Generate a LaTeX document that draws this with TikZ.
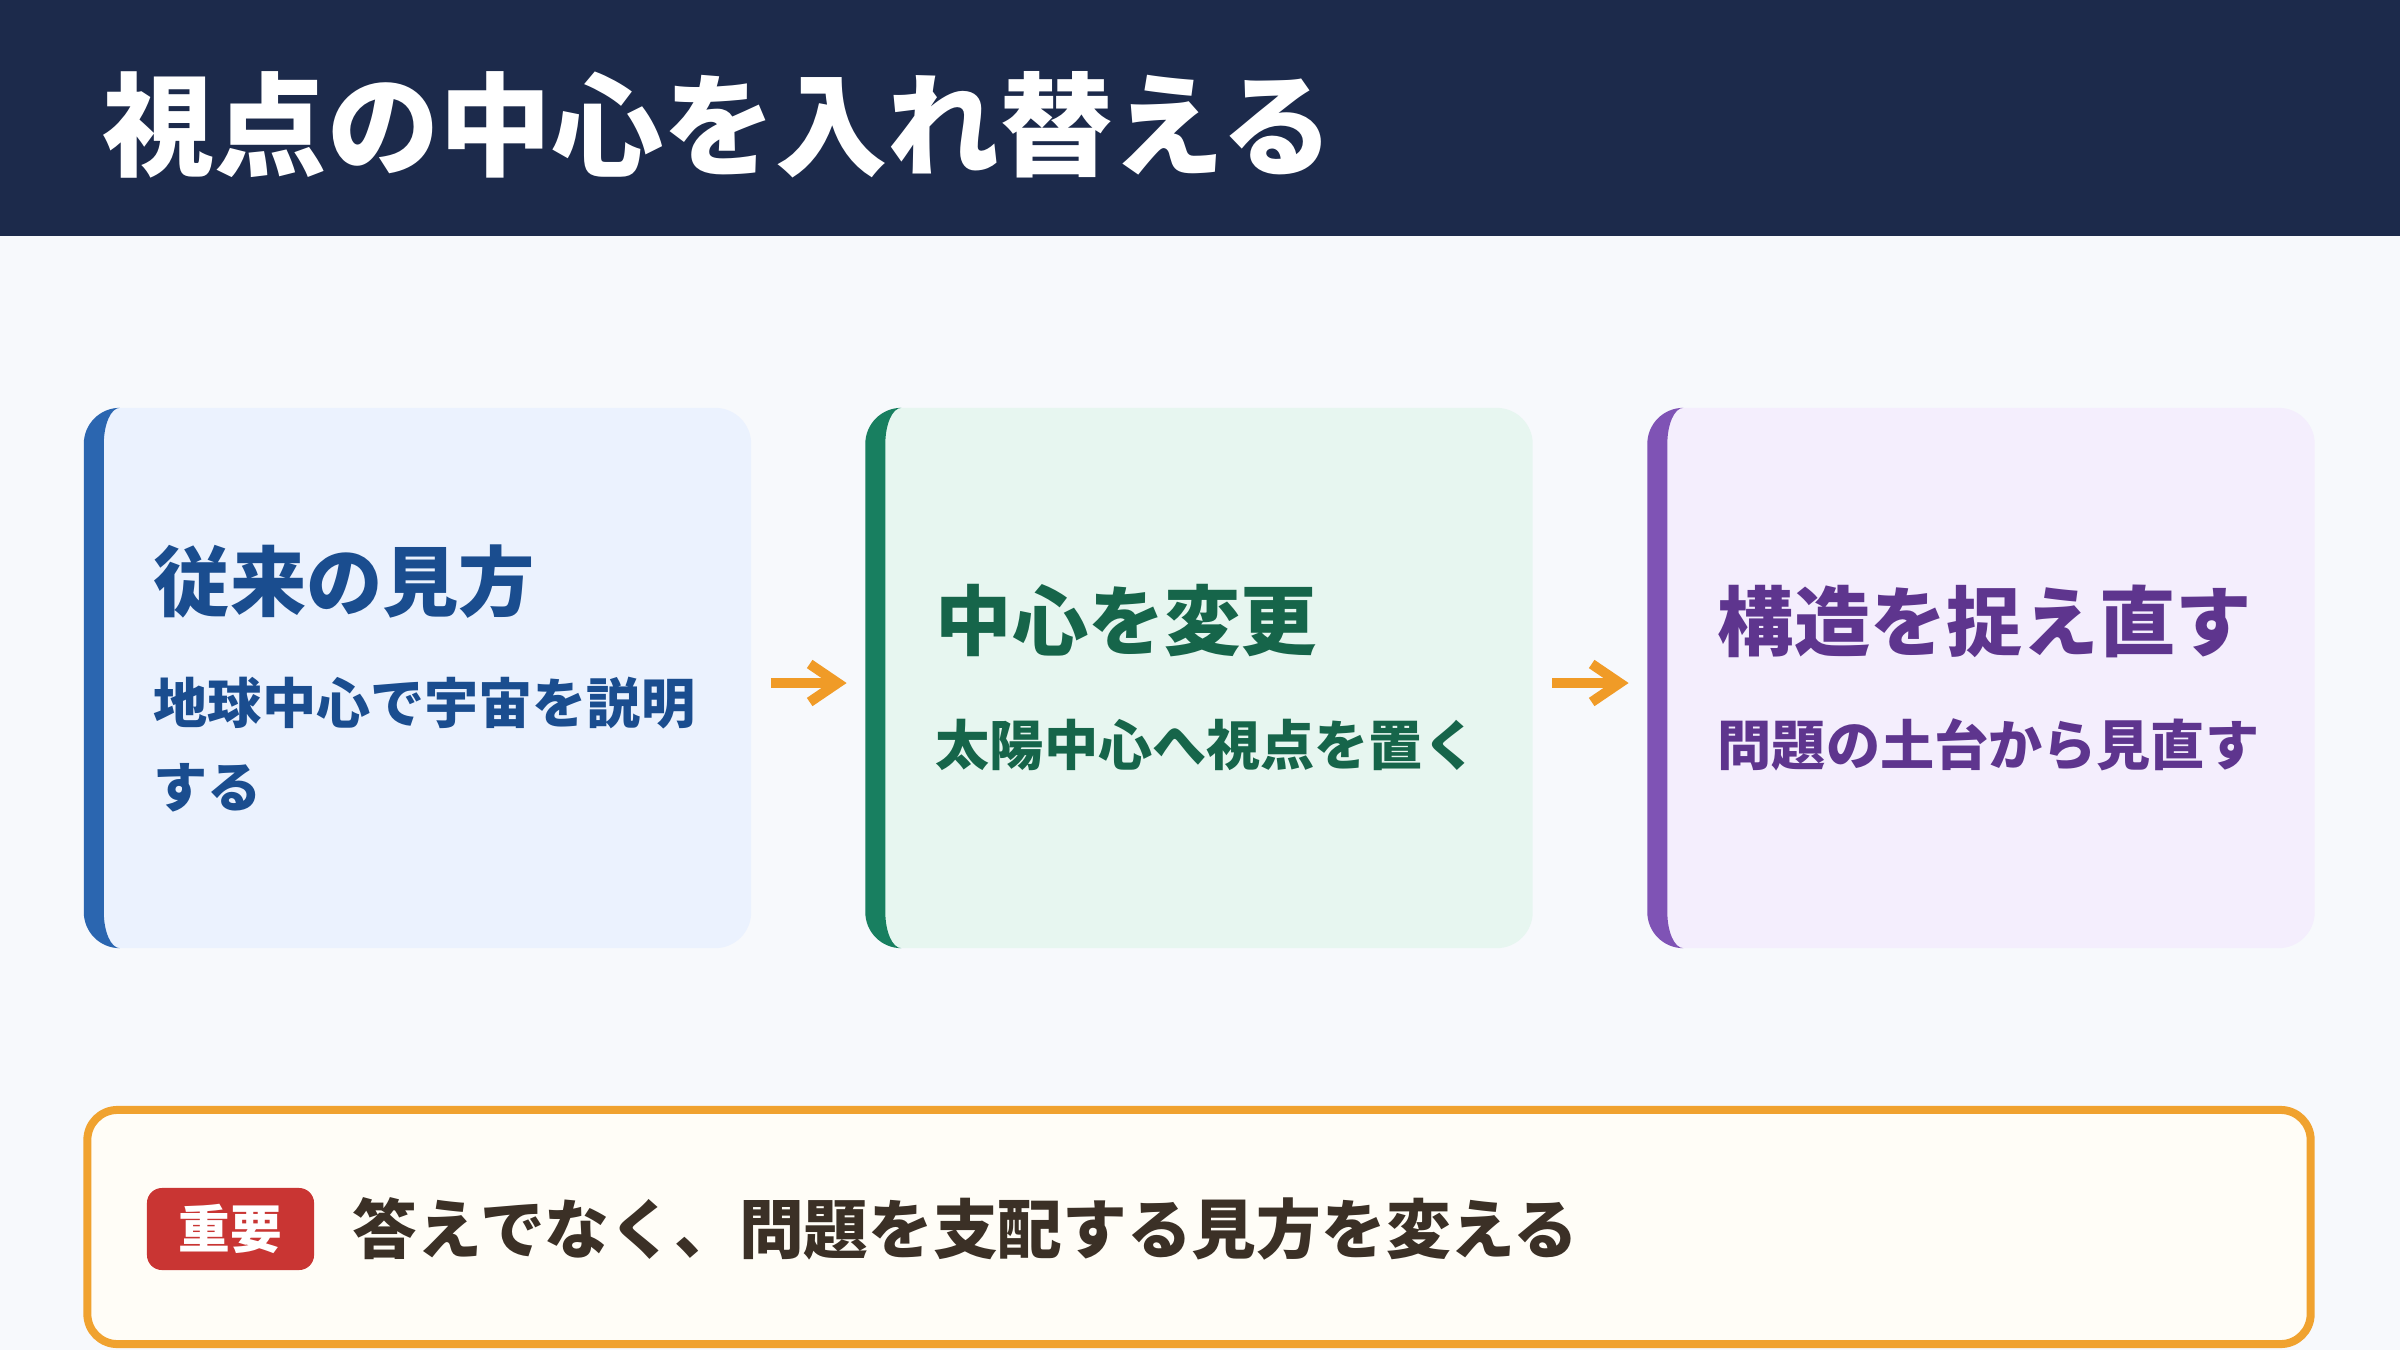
\documentclass[tikz,border=0pt]{standalone}
\usepackage{fontspec}
\usepackage{xcolor}
\usepackage{tikz}
\usetikzlibrary{positioning,calc,arrows.meta}
\setmainfont{Noto Sans CJK JP}

\definecolor{headbg}{HTML}{1C2A4B}
\definecolor{pagebg}{HTML}{F7F9FC}
\definecolor{bluebar}{HTML}{2B66B0}
\definecolor{bluefill}{HTML}{EBF2FE}
\definecolor{bluetext}{HTML}{1A4D8F}
\definecolor{greenbar}{HTML}{187F60}
\definecolor{greenfill}{HTML}{E7F6F0}
\definecolor{greentext}{HTML}{16654A}
\definecolor{purplebar}{HTML}{7F53B5}
\definecolor{purplefill}{HTML}{F4EEFD}
\definecolor{purpletext}{HTML}{5E358E}
\definecolor{arrowc}{HTML}{F09B27}
\definecolor{notefill}{HTML}{FFFDF7}
\definecolor{noteline}{HTML}{F0A22F}
\definecolor{tagred}{HTML}{C93533}
\definecolor{notetext}{HTML}{3B3026}

\tikzset{
  card/.style 2 args={rectangle, rounded corners=0.36cm, fill=#2, inner sep=0pt,
    minimum width=6.67cm, minimum height=5.4cm,
    path picture={
      \fill[#1, sharp corners] (path picture bounding box.south west)
        -- (path picture bounding box.north west)
        -- ([xshift=0.36cm]path picture bounding box.north west)
        arc[start angle=90, end angle=180, x radius=0.16cm, y radius=0.36cm]
        -- ([shift={(0.2cm,0.36cm)}]path picture bounding box.south west)
        arc[start angle=180, end angle=270, x radius=0.16cm, y radius=0.36cm]
        -- cycle;
    }},
  cardtitle/.style={anchor=west, inner sep=0pt, font=\bfseries\fontsize{21.7}{26}\selectfont},
  cardsub/.style={anchor=west, inner sep=0pt, align=left, font=\bfseries\fontsize{15.4}{23.9}\selectfont},
  flow/.style={draw=arrowc, line width=0.1cm, -{Straight Barb[length=0.28cm, width=0.38cm]},
    shorten <=0.19cm, shorten >=0.18cm}
}

\begin{document}
\begin{tikzpicture}[x=0.01cm, y=0.01cm]
    % Page
    \useasboundingbox (0,0) rectangle (2400,1350);
    \fill[pagebg] (0,0) rectangle (2400,1350);

    % Header
    \fill[headbg] (0,1114) rectangle (2400,1350);
    \node[anchor=west, inner sep=0pt, text=white, font=\bfseries\fontsize{31.9}{38}\selectfont]
        (title) at (102,1225) {視点の中心を入れ替える};

    % Cards
    \node[card={bluebar}{bluefill}] (old) at (417.5,672) {};
    \node[card={greenbar}{greenfill}] (shift) at (1199,672) {};
    \node[card={purplebar}{purplefill}] (frame) at (1981,672) {};

    \node[cardtitle, text=bluetext] (oldtitle) at (153,768) {従来の見方};
    \node[cardsub, text=bluetext] (oldsub) at (153,605) {地球中心で宇宙を説明\\する};

    \node[cardtitle, text=greentext] (shifttitle) at (935,729) {中心を変更};
    \node[cardsub, text=greentext] (shiftsub) at (935,605) {太陽中心へ視点を置く};

    \node[cardtitle, text=purpletext] (frametitle) at (1717,729) {構造を捉え直す};
    \node[cardsub, text=purpletext] (framesub) at (1717,605) {問題の土台から見直す};

    % Arrows
    \draw[flow] ([yshift=-0.05cm]old.east) -- ([yshift=-0.05cm]shift.west);
    \draw[flow] ([yshift=-0.05cm]shift.east) -- ([yshift=-0.05cm]frame.west);

    % Note
    \node[draw=noteline, line width=0.08cm, fill=notefill, rounded corners=0.3cm,
        minimum width=22.22cm, minimum height=2.34cm] (note) at (1199,123) {};
    \node[fill=tagred, rounded corners=0.15cm, minimum width=1.67cm, minimum height=0.82cm,
        inner sep=0pt, text=white, font=\bfseries\fontsize{14.7}{18}\selectfont]
        (tag) at (230.5,121) {重要};
    \node[anchor=west, inner sep=0pt, text=notetext, font=\bfseries\fontsize{18.4}{22}\selectfont]
        (notetxt) at (352,121) {答えでなく、問題を支配する見方を変える};
\end{tikzpicture}
\end{document}
